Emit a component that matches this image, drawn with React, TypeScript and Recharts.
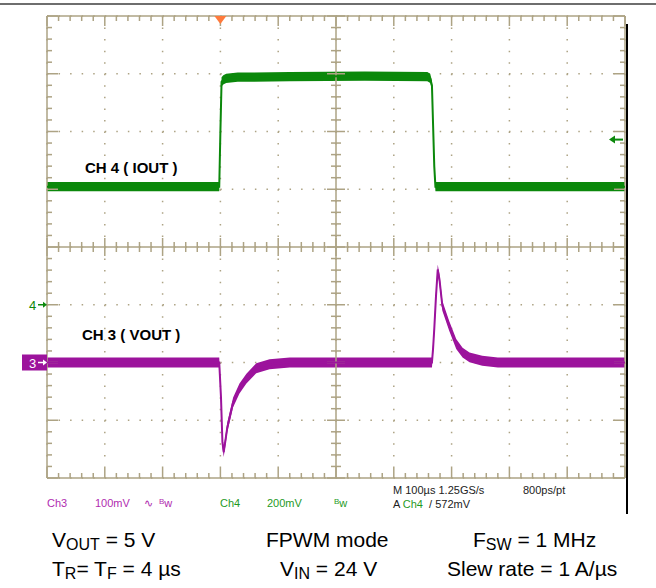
import { ComposedChart, Line, Area, XAxis, YAxis, CartesianGrid, ReferenceLine, ReferenceDot } from 'recharts'

// horizontal: 100 µs/div, trigger at 0 µs, 3 div from the left edge
const timeTicks = [-300, -200, -100, 0, 100, 200, 300, 400, 500, 600, 700]
const divTicks = [0, 1, 2, 3, 4, 5, 6, 7, 8]

// CH4 (IOUT probe), mV, 200 mV/div
const ch4Time = [-300, -2, 0, 2, 5, 10, 30, 120, 250, 358, 363, 366, 368, 370, 372, 700]
const ch4Mv = [409, 409, 600, 772, 779, 784, 788, 790, 792, 790, 784, 760, 620, 480, 409, 409]
const ch4Noise = 16

// CH3 (VOUT, ac), mV, 100 mV/div
const ch3Time = [-300, -2, 1, 3.5, 5.7, 8, 12, 22, 33, 45, 62, 85, 120, 366, 368, 370, 373, 376, 379, 384, 396, 408, 419, 431, 453, 480, 700]
const ch3Mv = [0, 0, -60, -138, -155, -140, -112, -69, -45, -28, -10, -3, 0, 0, 25, 58, 115, 161, 144, 98, 63, 32, 17, 9, 3, 0, 0]
const ch3Noise = 8.5

const trigLevel = 572

const ch4Data = ch4Time.map((t, i) => ({ t, v: ch4Mv[i], band: [ch4Mv[i] - ch4Noise, ch4Mv[i] + ch4Noise] }))
const ch3Data = ch3Time.map((t, i) => ({ t, v: ch3Mv[i], band: [ch3Mv[i] - ch3Noise, ch3Mv[i] + ch3Noise] }))

const GRID = '#ada384'
const GREEN = '#0b880b'
const PURPLE = '#9c139c'

// µs and divisions per screen pixel, for the fixed-length tick marks
const US_PX = 1000 / 578
const DIV_PX = 8 / 462

const minorTimes = Array.from({ length: 51 }, (_, i) => -300 + i * 20)
const minorDivs = Array.from({ length: 41 }, (_, i) => i * 0.2)

type Pt = { x: number; y: number }
const segs: [Pt, Pt][] = []
minorDivs.forEach((y, i) => {
  const major = i % 5 === 0
  const c = major ? 9 : 5
  const b = major ? 11 : 5
  segs.push([{ x: 200 - c * US_PX, y }, { x: 200 + c * US_PX, y }])
  segs.push([{ x: -300, y }, { x: -300 + b * US_PX, y }])
  segs.push([{ x: 700, y }, { x: 700 - b * US_PX, y }])
})
minorTimes.forEach((x, i) => {
  const major = i % 5 === 0
  const c = major ? 9 : 5
  const b = major ? 10 : 5
  segs.push([{ x, y: 4 - c * DIV_PX }, { x, y: 4 + c * DIV_PX }])
  segs.push([{ x, y: 8 }, { x, y: 8 - b * DIV_PX }])
  segs.push([{ x, y: 0 }, { x, y: b * DIV_PX }])
})

const Txt = ({ x, y, size, color = '#000', bold = false, children }: any) => (
  <div style={{ position: 'absolute', left: x, top: y, fontSize: size, color, fontWeight: bold ? 'bold' : 'normal', lineHeight: 1, whiteSpace: 'nowrap' }}>
    {children}
  </div>
)

const Sub = ({ children }: any) => <span style={{ fontSize: 16, position: 'relative', top: 3 }}>{children}</span>

const App = () => {
  return (
    <div style={{ position: 'absolute', left: 0, top: 0, width: 656, height: 588, background: '#fff', fontFamily: '"Liberation Sans", Arial, sans-serif' }}>
      <div style={{ position: 'absolute', left: 0, top: 3, width: 656, height: 2, background: '#6e6e6e' }} />
      <div style={{ position: 'absolute', left: 626, top: 24, width: 2, height: 490, background: '#000' }} />
      <ComposedChart width={656} height={588} margin={{ top: 16, right: 31, bottom: 110, left: 47 }}>
        <XAxis dataKey="t" type="number" domain={[-300, 700]} ticks={timeTicks} allowDataOverflow hide height={0} />
        <YAxis yAxisId="div" type="number" domain={[0, 8]} ticks={divTicks} allowDataOverflow hide width={0} />
        <YAxis yAxisId="ch4" type="number" domain={[-600, 1000]} allowDataOverflow hide width={0} />
        <YAxis yAxisId="ch3" type="number" domain={[-200, 600]} allowDataOverflow hide width={0} />
        <CartesianGrid yAxisId="div" stroke={GRID} strokeWidth={1.5} strokeDasharray="1.5 10.05" />
        <ReferenceLine yAxisId="div" x={200} stroke={GRID} strokeWidth={1.5} />
        <ReferenceLine yAxisId="div" y={4} stroke={GRID} strokeWidth={1.5} />
        <ReferenceLine yAxisId="div" x={-300} stroke={GRID} strokeWidth={1.5} />
        <ReferenceLine yAxisId="div" x={700} stroke={GRID} strokeWidth={1.5} />
        <ReferenceLine yAxisId="div" y={0} stroke={GRID} strokeWidth={1.5} />
        <ReferenceLine yAxisId="div" y={8} stroke={GRID} strokeWidth={1.5} />
        {segs.map((s, i) => (
          <ReferenceLine key={i} yAxisId="div" segment={s} stroke={GRID} strokeWidth={1.5} />
        ))}
        <Area yAxisId="ch4" data={ch4Data} dataKey="band" type="linear" stroke="none" fill={GREEN} fillOpacity={1} isAnimationActive={false} />
        <Line yAxisId="ch4" data={ch4Data} dataKey="v" type="linear" stroke={GREEN} strokeWidth={2} dot={false} isAnimationActive={false} />
        <Area yAxisId="ch3" data={ch3Data} dataKey="band" type="linear" stroke="none" fill={PURPLE} fillOpacity={1} isAnimationActive={false} />
        <Line yAxisId="ch3" data={ch3Data} dataKey="v" type="linear" stroke={PURPLE} strokeWidth={2} dot={false} isAnimationActive={false} />
        <ReferenceDot
          yAxisId="div"
          x={0}
          y={8}
          shape={(p: any) => <polygon points={`${p.cx - 6},${p.cy} ${p.cx + 6},${p.cy} ${p.cx},${p.cy + 8}`} fill="#ff7a3c" />}
        />
        <ReferenceDot
          yAxisId="ch4"
          x={700}
          y={trigLevel}
          shape={(p: any) => (
            <g>
              <line x1={p.cx - 14} y1={p.cy} x2={p.cx - 2} y2={p.cy} stroke={GREEN} strokeWidth={2} />
              <polygon points={`${p.cx - 16},${p.cy} ${p.cx - 10},${p.cy - 4} ${p.cx - 10},${p.cy + 4}`} fill={GREEN} />
            </g>
          )}
        />
        <ReferenceDot
          yAxisId="ch4"
          x={-300}
          y={0}
          ifOverflow="visible"
          shape={(p: any) => (
            <g>
              <text x={p.cx - 18} y={p.cy + 5} fontSize={13} fill={GREEN} fontFamily="Liberation Sans, Arial">4</text>
              <line x1={p.cx - 9} y1={p.cy} x2={p.cx - 2} y2={p.cy} stroke={GREEN} strokeWidth={1.5} />
              <polygon points={`${p.cx},${p.cy} ${p.cx - 4},${p.cy - 3} ${p.cx - 4},${p.cy + 3}`} fill={GREEN} />
            </g>
          )}
        />
        <ReferenceDot
          yAxisId="ch3"
          x={-300}
          y={0}
          ifOverflow="visible"
          shape={(p: any) => (
            <g>
              <rect x={p.cx - 25} y={p.cy - 8} width={25} height={16} fill={PURPLE} />
              <text x={p.cx - 18} y={p.cy + 5} fontSize={13} fill="#fff" fontFamily="Liberation Sans, Arial">3</text>
              <line x1={p.cx - 9} y1={p.cy} x2={p.cx - 2} y2={p.cy} stroke="#fff" strokeWidth={1.5} />
              <polygon points={`${p.cx},${p.cy} ${p.cx - 4},${p.cy - 3} ${p.cx - 4},${p.cy + 3}`} fill="#fff" />
            </g>
          )}
        />
      </ComposedChart>

      <Txt x={85} y={160} size={15} bold>CH 4 ( IOUT )</Txt>
      <Txt x={82} y={327} size={15} bold>CH 3 ( VOUT )</Txt>

      <Txt x={47} y={498} size={11} color="#b02cb0">Ch3</Txt>
      <Txt x={95} y={498} size={11} color="#b02cb0">100mV</Txt>
      <Txt x={144} y={498} size={11} color="#b02cb0">∿</Txt>
      <Txt x={159} y={498} size={11} color="#b02cb0"><span style={{ fontSize: 8, verticalAlign: 'top' }}>B</span>w</Txt>
      <Txt x={220} y={498} size={11} color="#1f9a1f">Ch4</Txt>
      <Txt x={267} y={498} size={11} color="#1f9a1f">200mV</Txt>
      <Txt x={334} y={498} size={11} color="#1f9a1f"><span style={{ fontSize: 8, verticalAlign: 'top' }}>B</span>w</Txt>
      <Txt x={393} y={485} size={11} color="#222">M 100µs 1.25GS/s</Txt>
      <Txt x={523} y={485} size={11} color="#222">800ps/pt</Txt>
      <Txt x={393} y={499} size={11} color="#222">A <span style={{ color: '#1f9a1f' }}>Ch4</span> &nbsp;/ 572mV</Txt>

      <Txt x={52} y={529} size={21}>V<Sub>OUT</Sub> = 5 V</Txt>
      <Txt x={266} y={529} size={21}>FPWM mode</Txt>
      <Txt x={473} y={529} size={21}>F<Sub>SW</Sub> = 1 MHz</Txt>
      <Txt x={52} y={558} size={21}>T<Sub>R</Sub>= T<Sub>F</Sub> = 4 µs</Txt>
      <Txt x={280} y={558} size={21}>V<Sub>IN</Sub> = 24 V</Txt>
      <Txt x={447} y={558} size={21}>Slew rate = 1 A/µs</Txt>
    </div>
  )
}

export default App
